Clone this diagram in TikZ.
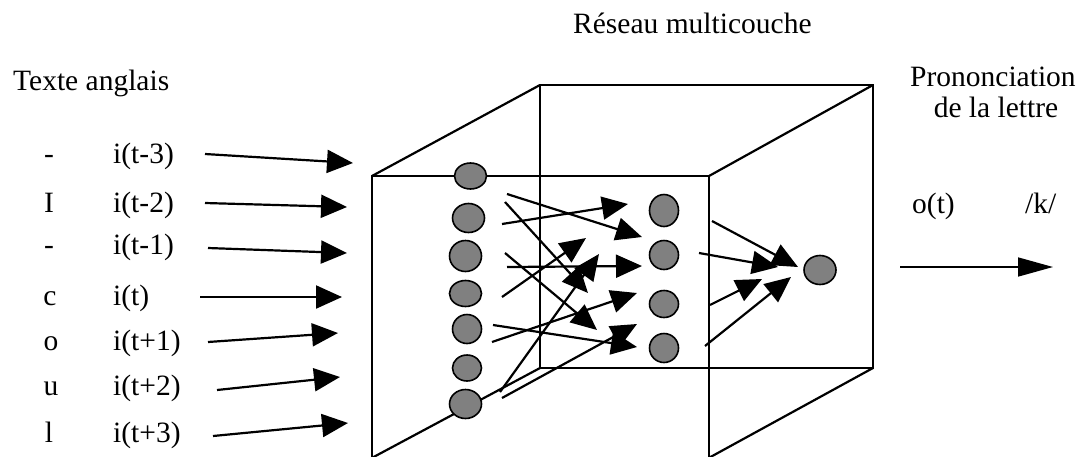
\documentclass[tikz,border=0pt]{standalone}
\usepackage{fontspec}
\setmainfont{Liberation Serif}
\usetikzlibrary{arrows.meta,shapes.geometric}
\begin{document}
\begin{tikzpicture}[x=1pt,y=-1pt,
  edge/.style={line width=2.2pt,line join=miter},
  conn/.style={line width=2.2pt,-{Triangle[length=26pt,width=23pt]}},
  outarrow/.style={line width=1.6pt,-{Triangle[length=35pt,width=19pt]}},
  unit/.style={ellipse,draw,line width=1.6pt,fill=gray,inner sep=0pt},
  lbl/.style={font=\fontsize{29.5}{34}\selectfont,inner sep=0pt}]
\useasboundingbox (0,0) rectangle (1090,456);
\fill[white] (0,0) rectangle (1090,456);
% cube
\draw[edge] (372,460) -- (372,176) -- (709,176) -- (709,460);
\draw[edge] (540,368) -- (540,85) -- (873,85) -- (873,368) -- cycle;
\draw[edge] (372,176) -- (540,85);
\draw[edge] (709,176) -- (873,85);
\draw[edge] (368,460) -- (540,368);
\draw[edge] (705,460) -- (873,368);
% texts
\node[lbl,anchor=base west] (title) at (573,33) {Réseau multicouche};
\node[lbl,anchor=base west] (texte) at (13,90) {Texte anglais};
\node[lbl,anchor=base west] (pron) at (910,86) {Prononciation};
\node[lbl,anchor=base] (lettre) at (996,117) {de la lettre};
\node[lbl,anchor=base west] (ot) at (912,213) {o(t)};
\node[lbl,anchor=base west] (kk) at (1025,213) {/k/};
\node[lbl,anchor=base] (l1) at (49,163) {-};
\node[lbl,anchor=base] (l2) at (49,212) {I};
\node[lbl,anchor=base] (l3) at (49,254) {-};
\node[lbl,anchor=base] (l4) at (50,305) {c};
\node[lbl,anchor=base] (l5) at (51,350) {o};
\node[lbl,anchor=base] (l6) at (51,395) {u};
\node[lbl,anchor=base] (l7) at (49,442) {l};
\node[lbl,anchor=base west] (n1) at (113,163) {i(t-3)};
\node[lbl,anchor=base west] (n2) at (113,212) {i(t-2)};
\node[lbl,anchor=base west] (n3) at (113,254) {i(t-1)};
\node[lbl,anchor=base west] (n4) at (113,305) {i(t)};
\node[lbl,anchor=base west] (n5) at (113,350) {i(t+1)};
\node[lbl,anchor=base west] (n6) at (113,395) {i(t+2)};
\node[lbl,anchor=base west] (n7) at (113,442) {i(t+3)};
% input arrow coordinates
\coordinate (s1) at (205,154); \coordinate (e1) at (353,163);
\coordinate (s2) at (205,203); \coordinate (e2) at (347,207);
\coordinate (s3) at (208,248); \coordinate (e3) at (347,253);
\coordinate (s4) at (200,297); \coordinate (e4) at (342,297);
\coordinate (s5) at (208,342); \coordinate (e5) at (338,333);
\coordinate (s6) at (217,390); \coordinate (e6) at (340,377);
\coordinate (s7) at (213,436); \coordinate (e7) at (348,423);
\foreach \k in {1,...,7} {\draw[conn] (s\k) -- (e\k);}
% hidden arrows
\coordinate (hsA) at (507,194); \coordinate (heA) at (642,237);
\coordinate (hsB) at (502,224); \coordinate (heB) at (628,204);
\coordinate (hsC) at (505,202); \coordinate (heC) at (588,293);
\coordinate (hsD) at (505,253); \coordinate (heD) at (597,330);
\coordinate (hsE) at (507,267); \coordinate (heE) at (642,266);
\coordinate (hsF) at (502,297); \coordinate (heF) at (586,238);
\coordinate (hsG) at (493,325); \coordinate (heG) at (637,347);
\coordinate (hsH) at (492,342); \coordinate (heH) at (637,293);
\coordinate (hsI) at (500,392); \coordinate (heI) at (599,254);
\coordinate (hsJ) at (502,398); \coordinate (heJ) at (637,324);
\foreach \k in {A,B,C,D,E,F,G,H,I,J} {\draw[conn] (hs\k) -- (he\k);}
% output arrows
\coordinate (osa) at (712,221); \coordinate (oea) at (798,267);
\coordinate (osb) at (699,253); \coordinate (oeb) at (778,267);
\coordinate (osc) at (710,305); \coordinate (oec) at (762,279);
\coordinate (osd) at (705,346); \coordinate (oed) at (791,277);
\foreach \k in {a,b,c,d} {\draw[conn] (os\k) -- (oe\k);}
\coordinate (fs) at (900,267); \coordinate (fe) at (1053,267);
\draw[outarrow] (fs) -- (fe);
% units
\node[unit,minimum width=32pt,minimum height=26pt] (u1) at (470.5,176) {};
\node[unit,minimum width=32pt,minimum height=29pt] (u2) at (468.5,218) {};
\node[unit,minimum width=32pt,minimum height=31pt] (u3) at (465.5,256) {};
\node[unit,minimum width=32pt,minimum height=26pt] (u4) at (465.5,293.5) {};
\node[unit,minimum width=29pt,minimum height=29pt] (u5) at (467,329) {};
\node[unit,minimum width=29pt,minimum height=26pt] (u6) at (467,368) {};
\node[unit,minimum width=32pt,minimum height=29pt] (u7) at (465.5,404) {};
\node[unit,minimum width=29pt,minimum height=32pt] (h1) at (664,210.5) {};
\node[unit,minimum width=29pt,minimum height=29pt] (h2) at (664,255) {};
\node[unit,minimum width=29pt,minimum height=27pt] (h3) at (664,304) {};
\node[unit,minimum width=29pt,minimum height=29pt] (h4) at (664,348) {};
\node[unit,minimum width=32pt,minimum height=29pt] (o1) at (820,270) {};
\end{tikzpicture}
\end{document}
